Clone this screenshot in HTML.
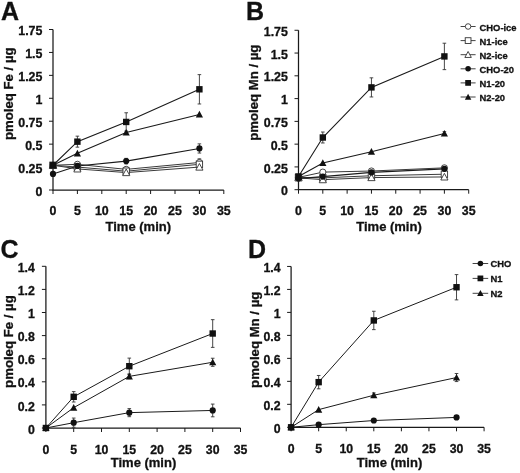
<!DOCTYPE html>
<html><head><meta charset="utf-8"><style>
html,body{margin:0;padding:0;background:#fff;}
body{width:520px;height:473px;overflow:hidden;}
svg{display:block;filter:grayscale(1);font-family:"Liberation Sans", sans-serif;font-weight:bold;fill:#111;}
text{stroke:#111;stroke-width:0.3px;}
</style></head><body>
<svg width="520" height="473" viewBox="0 0 520 473">
<path d="M53 29.51V190H223.8" fill="none" stroke="#1a1a1a" stroke-width="1.25"/>
<text x="42.4" y="195.6" text-anchor="end" font-size="12.4">0</text>
<text x="42.4" y="172.67" text-anchor="end" font-size="12.4">0.25</text>
<text x="42.4" y="149.75" text-anchor="end" font-size="12.4">0.5</text>
<text x="42.4" y="126.82" text-anchor="end" font-size="12.4">0.75</text>
<text x="42.4" y="103.89" text-anchor="end" font-size="12.4">1</text>
<text x="42.4" y="80.96" text-anchor="end" font-size="12.4">1.25</text>
<text x="42.4" y="58.04" text-anchor="end" font-size="12.4">1.5</text>
<text x="42.4" y="35.11" text-anchor="end" font-size="12.4">1.75</text>
<text x="53" y="214.8" text-anchor="middle" font-size="12.4">0</text>
<text x="77.4" y="214.8" text-anchor="middle" font-size="12.4">5</text>
<text x="101.8" y="214.8" text-anchor="middle" font-size="12.4">10</text>
<text x="126.2" y="214.8" text-anchor="middle" font-size="12.4">15</text>
<text x="150.6" y="214.8" text-anchor="middle" font-size="12.4">20</text>
<text x="175" y="214.8" text-anchor="middle" font-size="12.4">25</text>
<text x="199.4" y="214.8" text-anchor="middle" font-size="12.4">30</text>
<text x="223.8" y="214.8" text-anchor="middle" font-size="12.4">35</text>
<path d="M49 190H53 M49 167.07H53 M49 144.15H53 M49 121.22H53 M49 98.29H53 M49 75.36H53 M49 52.44H53 M49 29.51H53 M53 190V194 M77.4 190V194 M101.8 190V194 M126.2 190V194 M150.6 190V194 M175 190V194 M199.4 190V194 M223.8 190V194" stroke="#1a1a1a" stroke-width="1"/>
<text x="138.3" y="230.8" text-anchor="middle" font-size="13">Time (min)</text>
<text transform="translate(12.6 93.7) rotate(-90)" text-anchor="middle" font-size="13.2">pmoleq Fe / µg</text>
<text x="1" y="19.5" font-size="25">A</text>
<path d="M53 165.24 L77.4 164.32 L126.2 169.37 L199.4 162.49" fill="none" stroke="#3a3a3a" stroke-width="1"/>
<path d="M53 165.24 L77.4 167.07 L126.2 171.2 L199.4 164.32" fill="none" stroke="#3a3a3a" stroke-width="1"/>
<path d="M53 165.24 L77.4 168.91 L126.2 172.58 L199.4 167.07" fill="none" stroke="#3a3a3a" stroke-width="1"/>
<path d="M53 173.95 L77.4 165.97 L126.2 161.11 L199.4 148.46" fill="none" stroke="#1a1a1a" stroke-width="1.1"/>
<path d="M53 165.24 L77.4 141.67 L126.2 121.95 L199.4 89.3" fill="none" stroke="#1a1a1a" stroke-width="1.1"/>
<path d="M53 165.24 L77.4 153.32 L126.2 132.5 L199.4 114.43" fill="none" stroke="#1a1a1a" stroke-width="1.1"/>
<path d="M77.4 162.49V166.16M75.6 162.49H79.2M75.6 166.16H79.2" stroke="#333" stroke-width="0.9"/>
<path d="M126.2 167.53V171.2M124.4 167.53H128M124.4 171.2H128" stroke="#333" stroke-width="0.9"/>
<path d="M199.4 158.82V166.16M197.6 158.82H201.2M197.6 166.16H201.2" stroke="#333" stroke-width="0.9"/>
<circle cx="53" cy="165.24" r="3.1" fill="#fff" stroke="#333" stroke-width="0.9"/>
<circle cx="77.4" cy="164.32" r="3.1" fill="#fff" stroke="#333" stroke-width="0.9"/>
<circle cx="126.2" cy="169.37" r="3.1" fill="#fff" stroke="#333" stroke-width="0.9"/>
<circle cx="199.4" cy="162.49" r="3.1" fill="#fff" stroke="#333" stroke-width="0.9"/>
<path d="M199.4 161.57V167.07M197.6 161.57H201.2M197.6 167.07H201.2" stroke="#333" stroke-width="0.9"/>
<rect x="49.8" y="162.04" width="6.4" height="6.4" fill="#fff" stroke="#333" stroke-width="0.9"/>
<rect x="74.2" y="163.87" width="6.4" height="6.4" fill="#fff" stroke="#333" stroke-width="0.9"/>
<rect x="123" y="168" width="6.4" height="6.4" fill="#fff" stroke="#333" stroke-width="0.9"/>
<rect x="196.2" y="161.12" width="6.4" height="6.4" fill="#fff" stroke="#333" stroke-width="0.9"/>
<path d="M53 161.64L56.6 168.3L49.4 168.3Z" fill="#fff" stroke="#333" stroke-width="0.9"/>
<path d="M77.4 165.31L81 171.97L73.8 171.97Z" fill="#fff" stroke="#333" stroke-width="0.9"/>
<path d="M126.2 168.98L129.8 175.64L122.6 175.64Z" fill="#fff" stroke="#333" stroke-width="0.9"/>
<path d="M199.4 163.47L203 170.13L195.8 170.13Z" fill="#fff" stroke="#333" stroke-width="0.9"/>
<path d="M126.2 158.36V163.86M124.4 158.36H128M124.4 163.86H128" stroke="#333" stroke-width="0.9"/>
<path d="M199.4 143.87V153.04M197.6 143.87H201.2M197.6 153.04H201.2" stroke="#333" stroke-width="0.9"/>
<circle cx="53" cy="173.95" r="3.1" fill="#111"/>
<circle cx="77.4" cy="165.97" r="3.1" fill="#111"/>
<circle cx="126.2" cy="161.11" r="3.1" fill="#111"/>
<circle cx="199.4" cy="148.46" r="3.1" fill="#111"/>
<path d="M77.4 136.17V147.17M75.6 136.17H79.2M75.6 147.17H79.2" stroke="#333" stroke-width="0.9"/>
<path d="M126.2 112.78V131.12M124.4 112.78H128M124.4 131.12H128" stroke="#333" stroke-width="0.9"/>
<path d="M199.4 74.63V103.98M197.6 74.63H201.2M197.6 103.98H201.2" stroke="#333" stroke-width="0.9"/>
<rect x="49.8" y="162.04" width="6.4" height="6.4" fill="#111"/>
<rect x="74.2" y="138.47" width="6.4" height="6.4" fill="#111"/>
<rect x="123" y="118.75" width="6.4" height="6.4" fill="#111"/>
<rect x="196.2" y="86.1" width="6.4" height="6.4" fill="#111"/>
<path d="M53 161.64L56.6 168.3L49.4 168.3Z" fill="#111"/>
<path d="M77.4 149.72L81 156.38L73.8 156.38Z" fill="#111"/>
<path d="M126.2 128.9L129.8 135.56L122.6 135.56Z" fill="#111"/>
<path d="M199.4 110.83L203 117.49L195.8 117.49Z" fill="#111"/>
<path d="M298.5 30.28V189.7H468.71" fill="none" stroke="#1a1a1a" stroke-width="1.25"/>
<text x="287.9" y="195.3" text-anchor="end" font-size="12.4">0</text>
<text x="287.9" y="172.52" text-anchor="end" font-size="12.4">0.25</text>
<text x="287.9" y="149.75" text-anchor="end" font-size="12.4">0.5</text>
<text x="287.9" y="126.97" text-anchor="end" font-size="12.4">0.75</text>
<text x="287.9" y="104.2" text-anchor="end" font-size="12.4">1</text>
<text x="287.9" y="81.42" text-anchor="end" font-size="12.4">1.25</text>
<text x="287.9" y="58.65" text-anchor="end" font-size="12.4">1.5</text>
<text x="287.9" y="35.88" text-anchor="end" font-size="12.4">1.75</text>
<text x="298.5" y="214.5" text-anchor="middle" font-size="12.4">0</text>
<text x="322.81" y="214.5" text-anchor="middle" font-size="12.4">5</text>
<text x="347.13" y="214.5" text-anchor="middle" font-size="12.4">10</text>
<text x="371.44" y="214.5" text-anchor="middle" font-size="12.4">15</text>
<text x="395.76" y="214.5" text-anchor="middle" font-size="12.4">20</text>
<text x="420.08" y="214.5" text-anchor="middle" font-size="12.4">25</text>
<text x="444.39" y="214.5" text-anchor="middle" font-size="12.4">30</text>
<text x="468.71" y="214.5" text-anchor="middle" font-size="12.4">35</text>
<path d="M294.5 189.7H298.5 M294.5 166.92H298.5 M294.5 144.15H298.5 M294.5 121.38H298.5 M294.5 98.6H298.5 M294.5 75.82H298.5 M294.5 53.05H298.5 M294.5 30.28H298.5 M298.5 189.7V193.7 M322.81 189.7V193.7 M347.13 189.7V193.7 M371.44 189.7V193.7 M395.76 189.7V193.7 M420.08 189.7V193.7 M444.39 189.7V193.7 M468.71 189.7V193.7" stroke="#1a1a1a" stroke-width="1"/>
<text x="389" y="230.8" text-anchor="middle" font-size="13">Time (min)</text>
<text transform="translate(258.2 92.7) rotate(-90)" text-anchor="middle" font-size="13.2">pmoleq Mn / µg</text>
<text x="246" y="19.5" font-size="25">B</text>
<path d="M298.5 177.4 L322.81 172.12 L371.44 171.02 L444.39 167.84" fill="none" stroke="#3a3a3a" stroke-width="1"/>
<path d="M298.5 177.4 L322.81 177.86 L371.44 175.76 L444.39 174.21" fill="none" stroke="#3a3a3a" stroke-width="1"/>
<path d="M298.5 177.86 L322.81 179.68 L371.44 177.58 L444.39 176.95" fill="none" stroke="#3a3a3a" stroke-width="1"/>
<path d="M298.5 178.49 L322.81 176.58 L371.44 172.39 L444.39 168.84" fill="none" stroke="#1a1a1a" stroke-width="1.1"/>
<path d="M298.5 176.49 L322.81 137.5 L371.44 87.39 L444.39 56.42" fill="none" stroke="#1a1a1a" stroke-width="1.1"/>
<path d="M298.5 176.49 L322.81 162.92 L371.44 151.71 L444.39 133.49" fill="none" stroke="#1a1a1a" stroke-width="1.1"/>
<path d="M322.81 170.3V173.94M321.01 170.3H324.62M321.01 173.94H324.62" stroke="#333" stroke-width="0.9"/>
<path d="M371.44 169.2V172.85M369.64 169.2H373.25M369.64 172.85H373.25" stroke="#333" stroke-width="0.9"/>
<path d="M444.39 166.01V169.66M442.59 166.01H446.19M442.59 169.66H446.19" stroke="#333" stroke-width="0.9"/>
<circle cx="298.5" cy="177.4" r="3.1" fill="#fff" stroke="#333" stroke-width="0.9"/>
<circle cx="322.81" cy="172.12" r="3.1" fill="#fff" stroke="#333" stroke-width="0.9"/>
<circle cx="371.44" cy="171.02" r="3.1" fill="#fff" stroke="#333" stroke-width="0.9"/>
<circle cx="444.39" cy="167.84" r="3.1" fill="#fff" stroke="#333" stroke-width="0.9"/>
<rect x="295.3" y="174.2" width="6.4" height="6.4" fill="#fff" stroke="#333" stroke-width="0.9"/>
<rect x="319.62" y="174.66" width="6.4" height="6.4" fill="#fff" stroke="#333" stroke-width="0.9"/>
<rect x="368.25" y="172.56" width="6.4" height="6.4" fill="#fff" stroke="#333" stroke-width="0.9"/>
<rect x="441.19" y="171.01" width="6.4" height="6.4" fill="#fff" stroke="#333" stroke-width="0.9"/>
<path d="M298.5 174.26L302.1 180.92L294.9 180.92Z" fill="#fff" stroke="#333" stroke-width="0.9"/>
<path d="M322.81 176.08L326.42 182.74L319.21 182.74Z" fill="#fff" stroke="#333" stroke-width="0.9"/>
<path d="M371.44 173.98L375.05 180.64L367.84 180.64Z" fill="#fff" stroke="#333" stroke-width="0.9"/>
<path d="M444.39 173.35L447.99 180.01L440.79 180.01Z" fill="#fff" stroke="#333" stroke-width="0.9"/>
<path d="M444.39 167.02V170.66M442.59 167.02H446.19M442.59 170.66H446.19" stroke="#333" stroke-width="0.9"/>
<circle cx="298.5" cy="178.49" r="3.1" fill="#111"/>
<circle cx="322.81" cy="176.58" r="3.1" fill="#111"/>
<circle cx="371.44" cy="172.39" r="3.1" fill="#111"/>
<circle cx="444.39" cy="168.84" r="3.1" fill="#111"/>
<path d="M322.81 132.03V142.97M321.01 132.03H324.62M321.01 142.97H324.62" stroke="#333" stroke-width="0.9"/>
<path d="M371.44 77.83V96.96M369.64 77.83H373.25M369.64 96.96H373.25" stroke="#333" stroke-width="0.9"/>
<path d="M444.39 43.21V69.63M442.59 43.21H446.19M442.59 69.63H446.19" stroke="#333" stroke-width="0.9"/>
<rect x="295.3" y="173.29" width="6.4" height="6.4" fill="#111"/>
<rect x="319.62" y="134.3" width="6.4" height="6.4" fill="#111"/>
<rect x="368.25" y="84.19" width="6.4" height="6.4" fill="#111"/>
<rect x="441.19" y="53.22" width="6.4" height="6.4" fill="#111"/>
<path d="M444.39 131.67V135.31M442.59 131.67H446.19M442.59 135.31H446.19" stroke="#333" stroke-width="0.9"/>
<path d="M298.5 172.89L302.1 179.55L294.9 179.55Z" fill="#111"/>
<path d="M322.81 159.32L326.42 165.98L319.21 165.98Z" fill="#111"/>
<path d="M371.44 148.11L375.05 154.77L367.84 154.77Z" fill="#111"/>
<path d="M444.39 129.89L447.99 136.55L440.79 136.55Z" fill="#111"/>
<path d="M45.9 266.3V428H240.5" fill="none" stroke="#1a1a1a" stroke-width="1.25"/>
<text x="34.9" y="433.6" text-anchor="end" font-size="12.3">0</text>
<text x="34.9" y="410.5" text-anchor="end" font-size="12.3">0.2</text>
<text x="34.9" y="387.4" text-anchor="end" font-size="12.3">0.4</text>
<text x="34.9" y="364.3" text-anchor="end" font-size="12.3">0.6</text>
<text x="34.9" y="341.2" text-anchor="end" font-size="12.3">0.8</text>
<text x="34.9" y="318.1" text-anchor="end" font-size="12.3">1</text>
<text x="34.9" y="295" text-anchor="end" font-size="12.3">1.2</text>
<text x="34.9" y="271.9" text-anchor="end" font-size="12.3">1.4</text>
<text x="45.9" y="453.5" text-anchor="middle" font-size="12.3">0</text>
<text x="73.7" y="453.5" text-anchor="middle" font-size="12.3">5</text>
<text x="101.5" y="453.5" text-anchor="middle" font-size="12.3">10</text>
<text x="129.3" y="453.5" text-anchor="middle" font-size="12.3">15</text>
<text x="157.1" y="453.5" text-anchor="middle" font-size="12.3">20</text>
<text x="184.9" y="453.5" text-anchor="middle" font-size="12.3">25</text>
<text x="212.7" y="453.5" text-anchor="middle" font-size="12.3">30</text>
<text x="240.5" y="453.5" text-anchor="middle" font-size="12.3">35</text>
<path d="M41.9 428H45.9 M41.9 404.9H45.9 M41.9 381.8H45.9 M41.9 358.7H45.9 M41.9 335.6H45.9 M41.9 312.5H45.9 M41.9 289.4H45.9 M41.9 266.3H45.9 M45.9 428V432 M73.7 428V432 M101.5 428V432 M129.3 428V432 M157.1 428V432 M184.9 428V432 M212.7 428V432 M240.5 428V432" stroke="#1a1a1a" stroke-width="1"/>
<text x="143.5" y="466.8" text-anchor="middle" font-size="13">Time (min)</text>
<text transform="translate(13 341.6) rotate(-90)" text-anchor="middle" font-size="13.2">pmoleq Fe / µg</text>
<text x="0.5" y="258" font-size="25">C</text>
<path d="M45.9 428 L73.7 422.69 L129.3 412.64 L212.7 410.44" fill="none" stroke="#1a1a1a" stroke-width="1.0"/>
<path d="M45.9 428 L73.7 396.81 L129.3 366.21 L212.7 333.52" fill="none" stroke="#1a1a1a" stroke-width="1.0"/>
<path d="M45.9 428 L73.7 407.67 L129.3 376.37 L212.7 362.28" fill="none" stroke="#1a1a1a" stroke-width="1.0"/>
<path d="M73.7 418.07V427.31M71.9 418.07H75.5M71.9 427.31H75.5" stroke="#333" stroke-width="0.9"/>
<path d="M129.3 408.6V416.68M127.5 408.6H131.1M127.5 416.68H131.1" stroke="#333" stroke-width="0.9"/>
<path d="M212.7 404.09V416.8M210.9 404.09H214.5M210.9 416.8H214.5" stroke="#333" stroke-width="0.9"/>
<circle cx="45.9" cy="428" r="3.1" fill="#111"/>
<circle cx="73.7" cy="422.69" r="3.1" fill="#111"/>
<circle cx="129.3" cy="412.64" r="3.1" fill="#111"/>
<circle cx="212.7" cy="410.44" r="3.1" fill="#111"/>
<path d="M73.7 391.62V402.01M71.9 391.62H75.5M71.9 402.01H75.5" stroke="#333" stroke-width="0.9"/>
<path d="M129.3 358.12V374.29M127.5 358.12H131.1M127.5 374.29H131.1" stroke="#333" stroke-width="0.9"/>
<path d="M212.7 319.66V347.38M210.9 319.66H214.5M210.9 347.38H214.5" stroke="#333" stroke-width="0.9"/>
<rect x="42.7" y="424.8" width="6.4" height="6.4" fill="#111"/>
<rect x="70.5" y="393.62" width="6.4" height="6.4" fill="#111"/>
<rect x="126.1" y="363.01" width="6.4" height="6.4" fill="#111"/>
<rect x="209.5" y="330.32" width="6.4" height="6.4" fill="#111"/>
<path d="M129.3 374.06V378.68M127.5 374.06H131.1M127.5 378.68H131.1" stroke="#333" stroke-width="0.9"/>
<path d="M212.7 358.24V366.32M210.9 358.24H214.5M210.9 366.32H214.5" stroke="#333" stroke-width="0.9"/>
<path d="M45.9 424.4L49.5 431.06L42.3 431.06Z" fill="#111"/>
<path d="M73.7 404.07L77.3 410.73L70.1 410.73Z" fill="#111"/>
<path d="M129.3 372.77L132.9 379.43L125.7 379.43Z" fill="#111"/>
<path d="M212.7 358.68L216.3 365.34L209.1 365.34Z" fill="#111"/>
<path d="M291.1 266.44V427.3H484.09" fill="none" stroke="#1a1a1a" stroke-width="1.25"/>
<text x="280.6" y="432.9" text-anchor="end" font-size="12.3">0</text>
<text x="280.6" y="409.92" text-anchor="end" font-size="12.3">0.2</text>
<text x="280.6" y="386.94" text-anchor="end" font-size="12.3">0.4</text>
<text x="280.6" y="363.96" text-anchor="end" font-size="12.3">0.6</text>
<text x="280.6" y="340.98" text-anchor="end" font-size="12.3">0.8</text>
<text x="280.6" y="318" text-anchor="end" font-size="12.3">1</text>
<text x="280.6" y="295.02" text-anchor="end" font-size="12.3">1.2</text>
<text x="280.6" y="272.04" text-anchor="end" font-size="12.3">1.4</text>
<text x="291.1" y="452.8" text-anchor="middle" font-size="12.3">0</text>
<text x="318.67" y="452.8" text-anchor="middle" font-size="12.3">5</text>
<text x="346.24" y="452.8" text-anchor="middle" font-size="12.3">10</text>
<text x="373.81" y="452.8" text-anchor="middle" font-size="12.3">15</text>
<text x="401.38" y="452.8" text-anchor="middle" font-size="12.3">20</text>
<text x="428.95" y="452.8" text-anchor="middle" font-size="12.3">25</text>
<text x="456.52" y="452.8" text-anchor="middle" font-size="12.3">30</text>
<text x="484.09" y="452.8" text-anchor="middle" font-size="12.3">35</text>
<path d="M287.1 427.3H291.1 M287.1 404.32H291.1 M287.1 381.34H291.1 M287.1 358.36H291.1 M287.1 335.38H291.1 M287.1 312.4H291.1 M287.1 289.42H291.1 M287.1 266.44H291.1 M291.1 427.3V431.3 M318.67 427.3V431.3 M346.24 427.3V431.3 M373.81 427.3V431.3 M401.38 427.3V431.3 M428.95 427.3V431.3 M456.52 427.3V431.3 M484.09 427.3V431.3" stroke="#1a1a1a" stroke-width="1"/>
<text x="389.5" y="467.1" text-anchor="middle" font-size="13">Time (min)</text>
<text transform="translate(258.7 339.8) rotate(-90)" text-anchor="middle" font-size="13.2">pmoleq Mn / µg</text>
<text x="248" y="257.5" font-size="25">D</text>
<path d="M291.1 427.3 L318.67 424.66 L373.81 420.52 L456.52 417.42" fill="none" stroke="#1a1a1a" stroke-width="1.0"/>
<path d="M291.1 427.3 L318.67 382.14 L373.81 320.44 L456.52 287.24" fill="none" stroke="#1a1a1a" stroke-width="1.0"/>
<path d="M291.1 427.3 L318.67 409.61 L373.81 395.24 L456.52 377.55" fill="none" stroke="#1a1a1a" stroke-width="1.0"/>
<circle cx="291.1" cy="427.3" r="3.1" fill="#111"/>
<circle cx="318.67" cy="424.66" r="3.1" fill="#111"/>
<circle cx="373.81" cy="420.52" r="3.1" fill="#111"/>
<circle cx="456.52" cy="417.42" r="3.1" fill="#111"/>
<path d="M318.67 375.48V388.81M316.87 375.48H320.47M316.87 388.81H320.47" stroke="#333" stroke-width="0.9"/>
<path d="M373.81 311.25V329.63M372.01 311.25H375.61M372.01 329.63H375.61" stroke="#333" stroke-width="0.9"/>
<path d="M456.52 274.6V299.88M454.72 274.6H458.32M454.72 299.88H458.32" stroke="#333" stroke-width="0.9"/>
<rect x="287.9" y="424.1" width="6.4" height="6.4" fill="#111"/>
<rect x="315.47" y="378.94" width="6.4" height="6.4" fill="#111"/>
<rect x="370.61" y="317.24" width="6.4" height="6.4" fill="#111"/>
<rect x="453.32" y="284.04" width="6.4" height="6.4" fill="#111"/>
<path d="M373.81 392.94V397.54M372.01 392.94H375.61M372.01 397.54H375.61" stroke="#333" stroke-width="0.9"/>
<path d="M456.52 373.53V381.57M454.72 373.53H458.32M454.72 381.57H458.32" stroke="#333" stroke-width="0.9"/>
<path d="M291.1 423.7L294.7 430.36L287.5 430.36Z" fill="#111"/>
<path d="M318.67 406.01L322.27 412.67L315.07 412.67Z" fill="#111"/>
<path d="M373.81 391.64L377.41 398.3L370.21 398.3Z" fill="#111"/>
<path d="M456.52 373.95L460.12 380.61L452.92 380.61Z" fill="#111"/>
<path d="M460.6 26.5H475.6" stroke="#444" stroke-width="1"/>
<circle cx="468.1" cy="26.5" r="2.79" fill="#fff" stroke="#333" stroke-width="0.9"/>
<text transform="translate(479.5 30.7) scale(0.96 1)" font-size="9.8">CHO-ice</text>
<path d="M460.6 40.6H475.6" stroke="#444" stroke-width="1"/>
<rect x="465.22" y="37.72" width="5.76" height="5.76" fill="#fff" stroke="#333" stroke-width="0.9"/>
<text transform="translate(479.5 44.8) scale(0.96 1)" font-size="9.8">N1-ice</text>
<path d="M460.6 54.7H475.6" stroke="#444" stroke-width="1"/>
<path d="M468.1 51.46L471.34 57.45L464.86 57.45Z" fill="#fff" stroke="#333" stroke-width="0.9"/>
<text transform="translate(479.5 58.9) scale(0.96 1)" font-size="9.8">N2-ice</text>
<path d="M460.6 68.8H475.6" stroke="#444" stroke-width="1"/>
<circle cx="468.1" cy="68.8" r="2.79" fill="#111"/>
<text transform="translate(479.5 73) scale(0.96 1)" font-size="9.8">CHO-20</text>
<path d="M460.6 82.9H475.6" stroke="#444" stroke-width="1"/>
<rect x="465.22" y="80.02" width="5.76" height="5.76" fill="#111"/>
<text transform="translate(479.5 87.1) scale(0.96 1)" font-size="9.8">N1-20</text>
<path d="M460.6 97H475.6" stroke="#444" stroke-width="1"/>
<path d="M468.1 93.76L471.34 99.75L464.86 99.75Z" fill="#111"/>
<text transform="translate(479.5 101.2) scale(0.96 1)" font-size="9.8">N2-20</text>
<path d="M472.6 263.5H488.2" stroke="#444" stroke-width="1"/>
<circle cx="480.4" cy="263.5" r="2.79" fill="#111"/>
<text transform="translate(490.5 266.8) scale(0.96 1)" font-size="9.8">CHO</text>
<path d="M472.6 278.4H488.2" stroke="#444" stroke-width="1"/>
<rect x="477.52" y="275.52" width="5.76" height="5.76" fill="#111"/>
<text transform="translate(490.5 281.7) scale(0.96 1)" font-size="9.8">N1</text>
<path d="M472.6 293.3H488.2" stroke="#444" stroke-width="1"/>
<path d="M480.4 290.06L483.64 296.05L477.16 296.05Z" fill="#111"/>
<text transform="translate(490.5 296.6) scale(0.96 1)" font-size="9.8">N2</text>
</svg>
</body></html>
